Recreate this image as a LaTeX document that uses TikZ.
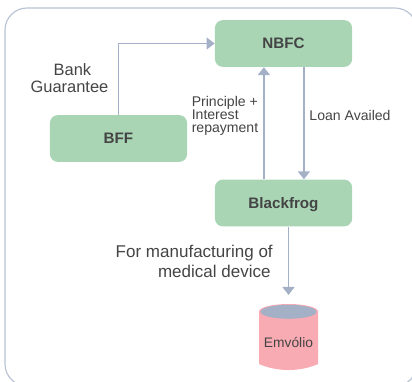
\documentclass[tikz,border=0pt]{standalone}
\usepackage{fontspec}
\setmainfont{Liberation Sans}
\usetikzlibrary{arrows.meta}
\definecolor{boxgreen}{HTML}{A9D5B5}
\definecolor{linegrey}{HTML}{A3B0C6}
\definecolor{framegrey}{HTML}{B7C1D4}
\definecolor{cylpink}{HTML}{F9ABB3}
\definecolor{textgrey}{HTML}{444444}
\tikzset{
    entity/.style={shape=rectangle,rounded corners=0.2cm,fill=boxgreen,text=textgrey,
                   minimum width=3.43cm,minimum height=1.17cm,text height=7.7pt,text depth=0pt,
                   font=\fontsize{10.8}{13}\selectfont\bfseries},
    flow/.style={draw=linegrey,line width=1.3pt,-{Triangle[length=0.2cm,width=0.3cm]}},
    caption/.style={text=textgrey,inner sep=0pt}
}
\begin{document}
\begin{tikzpicture}[x=0.025cm,y=-0.025cm]
    \useasboundingbox (0,0) rectangle (412,381);
    \draw[framegrey,line width=0.8pt,rounded corners=0.55cm] (5,8) rectangle (417,386);
    \node[entity] (NBFC) at (283.5,43.5) {NBFC};
    \node[entity] (BFF) at (118.5,138.5) {BFF};
    \node[entity] (Blackfrog) at (283.5,203) {Blackfrog};
    % cylinder body, then the label on top
    \fill[cylpink] (259,311.5) arc[x radius=29.5,y radius=-7.5,start angle=180,end angle=0]
        -- (318,364) .. controls (300,372) and (277,372) .. (259,364) -- cycle;
    \fill[linegrey] (288.5,311.8) ellipse[x radius=28,y radius=-7];
    \node[minimum width=1.475cm,minimum height=1.65cm,inner sep=0pt,text=textgrey,
          text height=15.6pt,text depth=0pt,
          font=\fontsize{9.8}{12}\selectfont] (Emvolio) at (288.5,337) {Emvólio};
    \coordinate (corner) at (BFF.north |- NBFC.west);
    \draw[flow,line width=0.7pt] (BFF.north) -- (corner) -- (NBFC.west);
    \draw[flow] ([xshift=-0.49cm]Blackfrog.north) -- ([xshift=-0.49cm]NBFC.south);
    \draw[flow] ([xshift=0.51cm]NBFC.south) -- ([xshift=0.51cm]Blackfrog.north);
    \draw[flow,shorten >=0.22cm] (Blackfrog.south -| Emvolio.north) -- (Emvolio.north);
    \node[caption,align=center,font=\fontsize{11.7}{12}\selectfont] (bank) at (69.5,78.5) {\hspace*{4.2pt}Bank\\Guarantee};
    \node[caption,align=left,font=\fontsize{10}{9.2}\selectfont] (repay) at (225,115.5) {Principle +\\Interest\\repayment};
    \node[caption,font=\fontsize{10}{12}\selectfont] (loan) at (350,115) {Loan Availed};
    \node[caption,align=right,font=\fontsize{12.1}{14.2}\selectfont,anchor=east] (purpose) at (273,261.5) {For manufacturing of\\medical device\hspace*{1.5pt}};
\end{tikzpicture}
\end{document}
